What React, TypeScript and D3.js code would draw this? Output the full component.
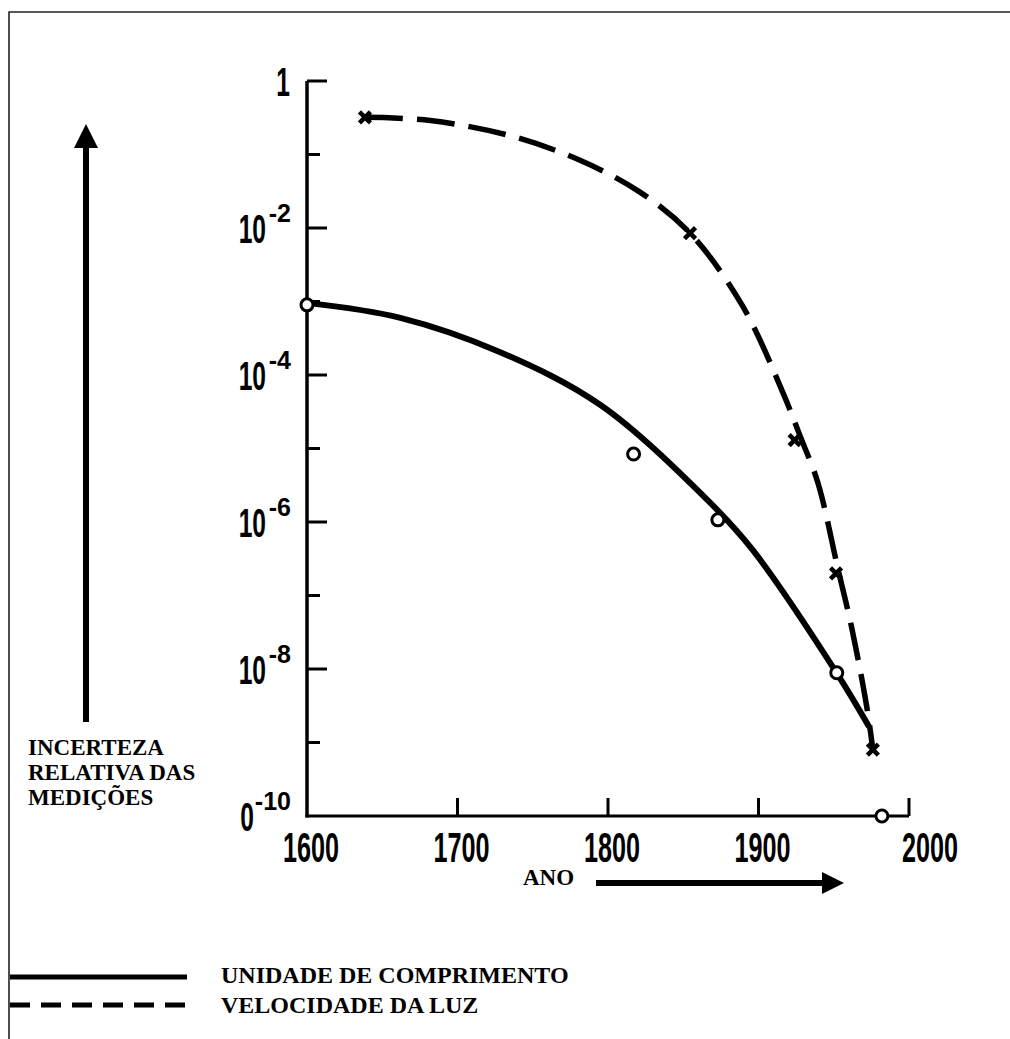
import React from "react";
import * as d3 from "d3";

// measured points (open circles / crosses)
const lengthYears = [1600, 1817, 1873, 1952, 1982];
const lengthValues = [9e-4, 8.4e-6, 1.07e-6, 8.9e-9, 1e-10];
const lightYears = [1638.5, 1854.5, 1924, 1951.5, 1976];
const lightValues = [0.32, 8.5e-3, 1.3e-5, 2.0e-7, 8e-10];

// hand drawn trend curves
const lengthCurveYears = [1601, 1662, 1728, 1795, 1866, 1896, 1952, 1973];
const lengthCurveValues = [9.5e-4, 6e-4, 2.06e-4, 3.9e-5, 2e-6, 4.2e-7, 8.8e-9, 1.7e-9];
const lightCurveYears = [1638.5, 1682, 1735, 1781, 1821, 1854.5, 1889, 1916, 1927.5, 1939.5, 1953, 1962, 1972, 1976];
const lightCurveValues = [0.32, 0.29, 0.18, 0.084, 0.031, 8.5e-3, 9e-4, 5.9e-5, 1.5e-5, 3.4e-6, 2.2e-7, 3.6e-8, 3e-9, 8e-10];

const xTicks = [1700, 1800, 1900, 2000];
const xTickLabels = ["1600", "1700", "1800", "1900", "2000"];
const xLabelYears = [1600, 1700, 1800, 1900, 2000];
const yMajor = [1, 1e-2, 1e-4, 1e-6, 1e-8];
const yMinor = [1e-1, 1e-3, 1e-5, 1e-7, 1e-9];
const yLabelValues = [1, 1e-2, 1e-4, 1e-6, 1e-8, 1e-10];
const yLabelBase = ["1", "10", "10", "10", "10", "0"];
const yLabelExp = ["", "-2", "-4", "-6", "-8", "-10"];

const yAxisTitle = ["INCERTEZA", "RELATIVA DAS", "MEDIÇÕES"];
const legendLabels = ["UNIDADE DE COMPRIMENTO", "VELOCIDADE DA LUZ"];

const W = 1010, H = 1039;
const numFont = "'Liberation Sans', Arial, sans-serif";
const serif = "'Liberation Serif', 'Times New Roman', serif";

export default function App() {
  const x = d3.scaleLinear().domain([1600, 2000]).range([307, 909]);
  const y = d3.scaleLog().domain([1e-10, 1]).range([816, 81]);

  const line = d3.line<[number, number]>()
    .x(d => x(d[0]))
    .y(d => y(d[1]))
    .curve(d3.curveCatmullRom.alpha(0.5));

  const lengthPath = line(lengthCurveYears.map((yr, i) => [yr, lengthCurveValues[i]]));
  const lightPath = line(lightCurveYears.map((yr, i) => [yr, lightCurveValues[i]]));

  return (
    <svg width={W} height={H} style={{ position: "absolute", left: 0, top: 0, background: "#fff" }}>
      {/* frame */}
      <path d={`M9,${H} L9,12 L${W},12`} fill="none" stroke="#222" strokeWidth={1.6} />

      {/* vertical arrow */}
      <line x1={86} x2={86} y1={722} y2={145} stroke="#000" strokeWidth={6} />
      <path d="M74,148 L86,124 L98,148 Z" fill="#000" />
      {yAxisTitle.map((t, i) => (
        <text key={t} x={28} y={755 + i * 25} fontFamily={serif} fontWeight="bold" fontSize={23}>{t}</text>
      ))}

      {/* axes */}
      <line x1={x(1600)} x2={x(1600)} y1={y(1)} y2={y(1e-10) + 1.5} stroke="#000" strokeWidth={3.5} />
      <line x1={x(1600) - 1.5} x2={x(2000)} y1={y(1e-10)} y2={y(1e-10)} stroke="#000" strokeWidth={3} />
      {yMajor.map(v => (
        <line key={"M" + v} x1={x(1600)} x2={x(1600) + 20} y1={y(v)} y2={y(v)} stroke="#000" strokeWidth={3} />
      ))}
      {yMinor.map(v => (
        <line key={"m" + v} x1={x(1600)} x2={x(1600) + 13} y1={y(v)} y2={y(v)} stroke="#000" strokeWidth={3} />
      ))}
      {xTicks.map(t => (
        <line key={t} x1={x(t)} x2={x(t)} y1={y(1e-10)} y2={y(1e-10) - 18} stroke="#000" strokeWidth={3} />
      ))}

      {/* tick labels */}
      {xLabelYears.map((t, i) => (
        <text key={t} transform={`translate(${x(t) + (t === 2000 ? 21 : 4)},862) scale(0.6,1)`}
          textAnchor="middle" fontFamily={numFont} fontWeight="bold" fontSize={42}>{xTickLabels[i]}</text>
      ))}
      {yLabelValues.map((v, i) => {
        const exp = yLabelExp[i];
        const expW = exp.length * 12;
        return (
          <g key={v}>
            <text transform={`translate(${290 - expW},${y(v) + 14.5}) scale(0.6,1)`}
              textAnchor="end" fontFamily={numFont} fontWeight="bold" fontSize={41}>{yLabelBase[i]}</text>
            {exp && (
              <text x={291} y={y(v) - 6} textAnchor="end" fontFamily={numFont} fontWeight="bold" fontSize={25}>{exp}</text>
            )}
          </g>
        );
      })}

      {/* curves */}
      <path d={lengthPath || ""} fill="none" stroke="#000" strokeWidth={6} strokeLinecap="round" />
      <path d={lightPath || ""} fill="none" stroke="#000" strokeWidth={5.5} strokeDasharray="38 14" />

      {/* markers */}
      {lightYears.map((yr, i) => {
        const cx = x(yr), cy = y(lightValues[i]);
        return (
          <g key={yr} stroke="#000" strokeWidth={4.5}>
            <line x1={cx - 5.5} x2={cx + 5.5} y1={cy - 5.5} y2={cy + 5.5} />
            <line x1={cx - 5.5} x2={cx + 5.5} y1={cy + 5.5} y2={cy - 5.5} />
          </g>
        );
      })}
      {lengthYears.map((yr, i) => (
        <circle key={yr} cx={x(yr)} cy={y(lengthValues[i])} r={6} fill="#fff" stroke="#000" strokeWidth={3} />
      ))}

      {/* year arrow */}
      <text x={523} y={885} fontFamily={serif} fontWeight="bold" fontSize={23}>ANO</text>
      <line x1={596} x2={824} y1={883} y2={883} stroke="#000" strokeWidth={6} />
      <path d="M822,872 L844,883 L822,894 Z" fill="#000" />

      {/* legend */}
      <line x1={10} x2={187} y1={977} y2={977} stroke="#000" strokeWidth={5} />
      <line x1={10} x2={187} y1={1005} y2={1005} stroke="#000" strokeWidth={5} strokeDasharray="20 11" />
      {legendLabels.map((t, i) => (
        <text key={t} x={221} y={983 + i * 30} fontFamily={serif} fontWeight="bold" fontSize={24}>{t}</text>
      ))}
    </svg>
  );
}
